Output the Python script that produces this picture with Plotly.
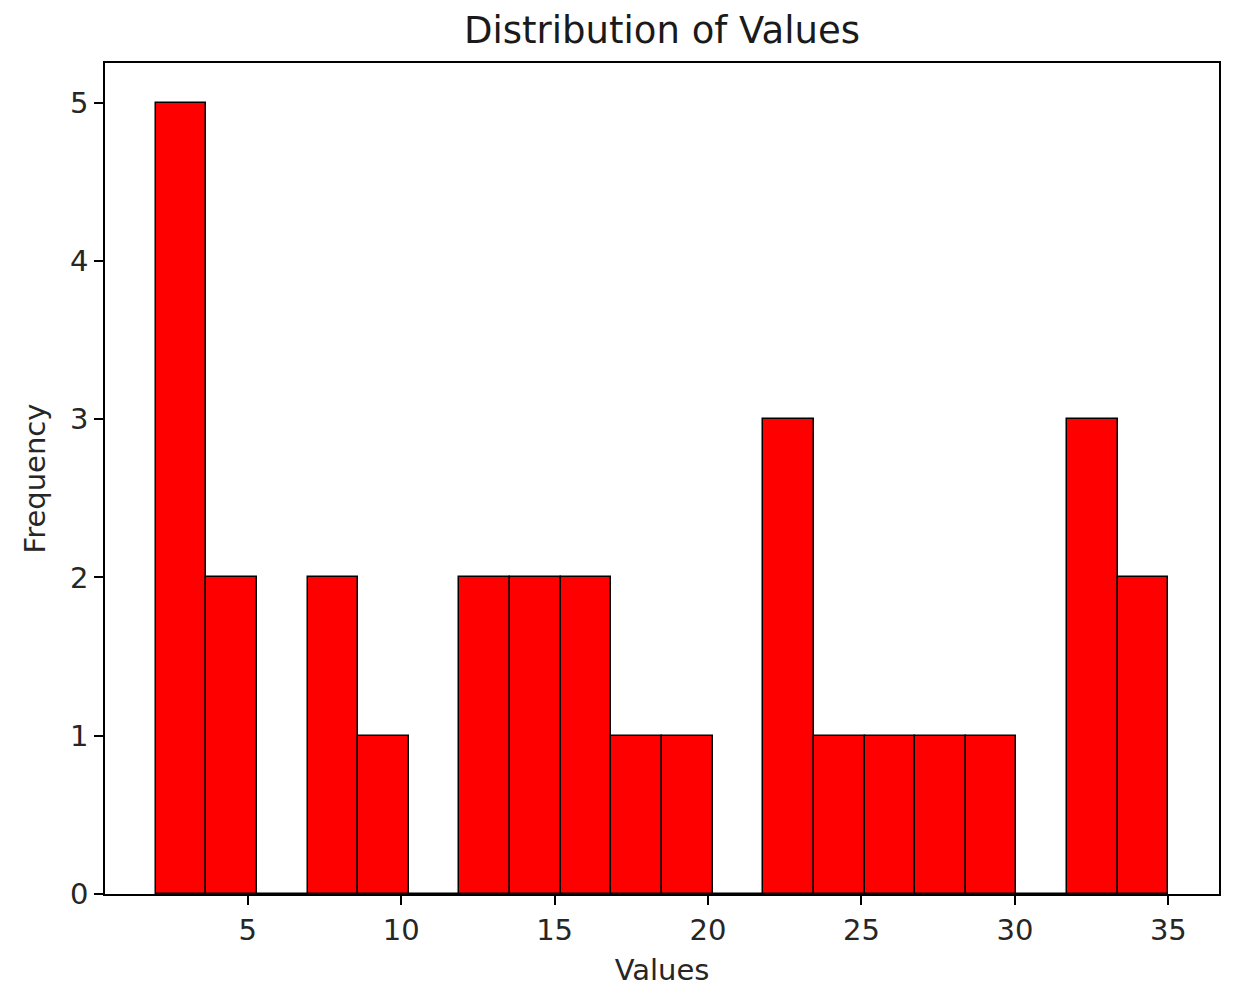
import plotly.graph_objects as go

# Histogram data
bin_edges = [2.0, 3.65, 5.3, 6.95, 8.6, 10.25, 11.9, 13.55, 15.2, 16.85, 18.5,
             20.15, 21.8, 23.45, 25.1, 26.75, 28.4, 30.05, 31.7, 33.35, 35.0]
counts = [5, 2, 0, 2, 1, 0, 2, 2, 2, 1, 1, 0, 3, 1, 1, 1, 1, 0, 3, 2]
x_ticks = [5, 10, 15, 20, 25, 30, 35]
y_ticks = [0, 1, 2, 3, 4, 5]

centers = [(a + b) / 2 for a, b in zip(bin_edges[:-1], bin_edges[1:])]
widths = [b - a for a, b in zip(bin_edges[:-1], bin_edges[1:])]

FONT = "DejaVu Sans"
TXT = "#262626"

fig = go.Figure(go.Bar(
    x=centers, y=counts, width=widths,
    marker=dict(color="#ff0000", line=dict(color="black", width=1.5)),
))

fig.update_layout(
    width=1249, height=998,
    margin=dict(l=105, r=30, t=63, b=104),
    plot_bgcolor="white", paper_bgcolor="white",
    showlegend=False,
    font=dict(family=FONT, color=TXT, size=29),
    title=dict(text="Distribution of Values", x=0.5, xref="paper", xanchor="center",
               y=1 - 30 / 998, yanchor="middle", yref="container",
               font=dict(family=FONT, size=37, color="#1a1a1a")),
    bargap=0,
)
fig.update_xaxes(
    range=[0.35, 36.65], tickvals=x_ticks, ticks="outside", ticklen=9, tickwidth=1.5,
    tickcolor="black", showline=True, linecolor="black", linewidth=1.5, mirror=True,
    showgrid=False, zeroline=False,
    tickfont=dict(size=29, color=TXT),
    title=dict(text="Values", font=dict(size=29, color=TXT), standoff=14),
)
fig.update_yaxes(
    range=[0, 5.25], tickvals=y_ticks, ticks="outside", ticklen=9, tickwidth=1.5,
    tickcolor="black", showline=True, linecolor="black", linewidth=1.5, mirror=True,
    showgrid=False, zeroline=False,
    tickfont=dict(size=29, color=TXT),
    title=dict(text="Frequency", font=dict(size=29, color=TXT), standoff=16),
)

fig.write_html("out.html")
